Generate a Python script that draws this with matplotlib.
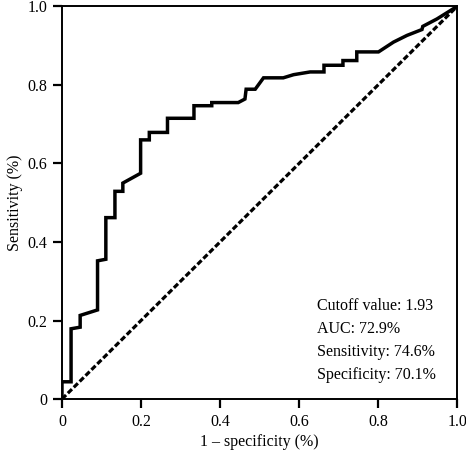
import matplotlib
matplotlib.use("Agg")
import matplotlib.pyplot as plt

# ROC curve
fpr = [0, 0, 0.023, 0.023, 0.046, 0.046, 0.090, 0.090, 0.111, 0.111,
       0.134, 0.134, 0.154, 0.154, 0.199, 0.199, 0.221, 0.221, 0.267, 0.267,
       0.334, 0.334, 0.379, 0.379, 0.446, 0.463, 0.466, 0.489, 0.51, 0.56,
       0.586, 0.628, 0.663, 0.663, 0.711, 0.711, 0.746, 0.746, 0.801, 0.839,
       0.873, 0.911, 0.913, 0.949, 1.0]
tpr = [0, 0.044, 0.044, 0.179, 0.183, 0.213, 0.227, 0.352, 0.356, 0.462,
       0.462, 0.529, 0.529, 0.550, 0.575, 0.660, 0.660, 0.679, 0.679, 0.715,
       0.715, 0.747, 0.747, 0.755, 0.755, 0.764, 0.789, 0.789, 0.818, 0.818,
       0.826, 0.833, 0.833, 0.850, 0.850, 0.862, 0.862, 0.884, 0.884, 0.909,
       0.926, 0.941, 0.949, 0.968, 1.0]
ref_line = [0, 1]

ticks = [0, 0.2, 0.4, 0.6, 0.8, 1.0]
tick_labels = ["0", "0.2", "0.4", "0.6", "0.8", "1.0"]
stats = ["Cutoff value: 1.93", "AUC: 72.9%", "Sensitivity: 74.6%", "Specificity: 70.1%"]

plt.rcParams['font.family'] = ['Liberation Serif', 'DejaVu Serif']

fig = plt.figure(figsize=(4.66, 4.54), dpi=100)
ax = fig.add_axes([0.133, 0.121, 0.848, 0.865])

ax.plot(fpr, tpr, color="black", lw=2.5, solid_joinstyle="miter", zorder=3)
ax.plot(ref_line, ref_line, color="black", lw=2.3, dashes=(1.8, 0.8), zorder=2)

ax.set_xlim(0, 1)
ax.set_ylim(0, 1)
ax.set_xticks(ticks)
ax.set_xticklabels(tick_labels)
ax.set_yticks(ticks)
ax.set_yticklabels(tick_labels)
ax.tick_params(direction="out", length=6.5, width=1.6, labelsize=11.5)
ax.tick_params(axis="x", pad=4)
ax.tick_params(axis="y", pad=4)
for s in ax.spines.values():
    s.set_linewidth(1.4)

ax.set_xlabel("1 \u2013 specificity (%)", fontsize=11.5, labelpad=3)
ax.set_ylabel("Sensitivity (%)", fontsize=11.5, labelpad=3)

for i, txt in enumerate(stats):
    ax.text(0.645, 0.238 - i * 0.059, txt, fontsize=11.5, va="center", ha="left",
            transform=ax.transAxes)

fig.savefig("out.png", dpi=100)
